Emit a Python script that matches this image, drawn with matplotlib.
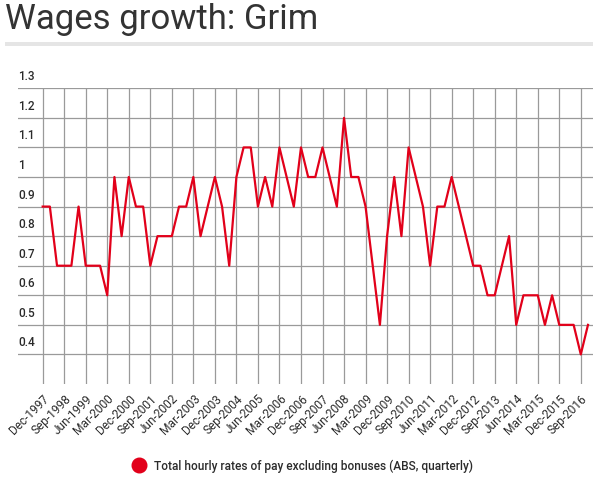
import matplotlib
matplotlib.use("Agg")
import matplotlib.pyplot as plt
from matplotlib.lines import Line2D
from matplotlib.patches import Rectangle

plt.rcParams['font.family'] = ['Roboto', 'DejaVu Sans']

# quarterly wage growth (%), Dec-1997 .. Dec-2016
wages = [0.9, 0.9, 0.7, 0.7, 0.7, 0.9, 0.7, 0.7, 0.7, 0.6, 1.0, 0.8, 1.0, 0.9, 0.9, 0.7,
         0.8, 0.8, 0.8, 0.9, 0.9, 1.0, 0.8, 0.9, 1.0, 0.9, 0.7, 1.0, 1.1, 1.1, 0.9, 1.0,
         0.9, 1.1, 1.0, 0.9, 1.1, 1.0, 1.0, 1.1, 1.0, 0.9, 1.2, 1.0, 1.0, 0.9, 0.7, 0.5,
         0.8, 1.0, 0.8, 1.1, 1.0, 0.9, 0.7, 0.9, 0.9, 1.0, 0.9, 0.8, 0.7, 0.7, 0.6, 0.6,
         0.7, 0.8, 0.5, 0.6, 0.6, 0.6, 0.5, 0.6, 0.5, 0.5, 0.5, 0.4, 0.5]

tick_labels = ['Dec-1997', 'Sep-1998', 'Jun-1999', 'Mar-2000', 'Dec-2000', 'Sep-2001',
               'Jun-2002', 'Mar-2003', 'Dec-2003', 'Sep-2004', 'Jun-2005', 'Mar-2006',
               'Dec-2006', 'Sep-2007', 'Jun-2008', 'Mar-2009', 'Dec-2009', 'Sep-2010',
               'Jun-2011', 'Mar-2012', 'Dec-2012', 'Sep-2013', 'Jun-2014', 'Mar-2015',
               'Dec-2015', 'Sep-2016']
y_ticks = [0.4, 0.5, 0.6, 0.7, 0.8, 0.9, 1.0, 1.1, 1.2, 1.3]
y_labels = ['0.4', '0.5', '0.6', '0.7', '0.8', '0.9', '1', '1.1', '1.2', '1.3']

series_name = 'Total hourly rates of pay excluding bonuses (ABS, quarterly)'
red = '#e2001a'
grid_col = '#9a9a9a'
text_col = '#2b2b2b'

fig = plt.figure(figsize=(6, 4.88), dpi=100)

# title and grey rule under it
fig.text(5 / 600, 1 - 3 / 488, 'Wages growth: Grim', fontsize=25, color='#333333',
         ha='left', va='top')
fig.patches.append(Rectangle((5 / 600, 1 - 45.5 / 488), 588 / 600, 3.2 / 488,
                             transform=fig.transFigure, color='#e5e5e5', lw=0))

ax = fig.add_axes([18 / 600, 1 - 384 / 488, 575 / 600, (384 - 88.3) / 488])
x = list(range(len(wages)))
ax.plot(x, wages, color=red, lw=1.6, zorder=3)

ax.set_xlim(-3.44, 76.7)
ax.set_ylim(0.3, 1.3)
ax.set_xticks(range(0, 3 * len(tick_labels), 3))
ax.set_xticklabels(tick_labels, rotation=45, ha='right', rotation_mode='anchor',
                   fontsize=8.6, color=text_col)
ax.tick_params(axis='x', length=0, pad=6)
ax.set_yticks(y_ticks)
ax.set_yticklabels([])
ax.tick_params(axis='y', length=0)
ax.grid(True, color=grid_col, lw=0.9)
for s in ax.spines.values():
    s.set_visible(False)

for v, lab in zip(y_ticks, y_labels):
    ax.text(0.0, v + 0.017, lab, transform=ax.get_yaxis_transform(), ha='left',
            va='bottom', fontsize=8.5, color=text_col, weight='medium')

handle = Line2D([], [], color=red, marker='o', ls='none', markersize=10.5)
fig.legend([handle], [series_name], loc='center', bbox_to_anchor=(0.5, 1 - 466 / 488),
           frameon=False, handletextpad=0.3, labelcolor=text_col,
           prop={'weight': 'medium', 'size': 8.6})

fig.savefig('out.png', dpi=100)
